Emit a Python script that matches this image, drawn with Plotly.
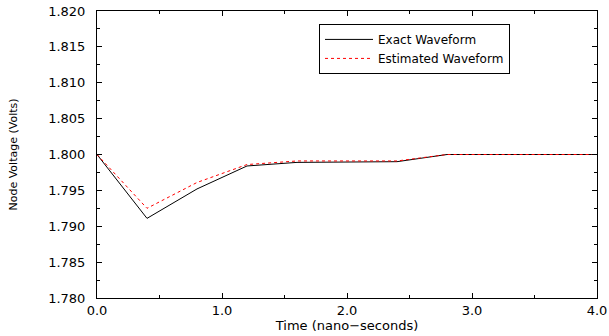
import plotly.graph_objects as go

time_ns = [0.0, 0.4, 0.8, 1.2, 1.6, 2.0, 2.4, 2.8, 3.2, 3.6, 4.0]
exact_v = [1.8000, 1.7911, 1.7952, 1.7984, 1.7989, 1.7989, 1.7990, 1.8000, 1.8000, 1.8000, 1.8000]
estimated_v = [1.8000, 1.7925, 1.7961, 1.7986, 1.7991, 1.7991, 1.7991, 1.8000, 1.8000, 1.8000, 1.8000]

x_ticks = [0.0, 1.0, 2.0, 3.0, 4.0]
x_labels = ["0.0", "1.0", "2.0", "3.0", "4.0"]
y_ticks = [1.780, 1.785, 1.790, 1.795, 1.800, 1.805, 1.810, 1.815, 1.820]
y_labels = ["%.3f" % v for v in y_ticks]

font_family = "DejaVu Sans, Verdana, sans-serif"

fig = go.Figure()
fig.add_trace(go.Scatter(x=time_ns, y=exact_v, mode="lines", name="Exact Waveform",
                         line=dict(color="black", width=1)))
fig.add_trace(go.Scatter(x=time_ns, y=estimated_v, mode="lines", name="Estimated Waveform",
                         line=dict(color="red", width=1, dash="dot")))

fig.update_layout(
    width=609, height=336,
    margin=dict(l=97, r=12, t=11, b=38, autoexpand=False),
    paper_bgcolor="white", plot_bgcolor="white",
    font=dict(family=font_family, color="black", size=13),
    showlegend=True,
    legend=dict(x=0.444, y=0.955, xanchor="left", yanchor="top",
                bordercolor="black", borderwidth=1, bgcolor="white",
                font=dict(size=12), tracegroupgap=0, itemwidth=48,
                entrywidth=215, valign="middle"),
    xaxis=dict(range=[0, 4], tickvals=x_ticks, ticktext=x_labels, automargin=False,
               showline=True, linecolor="black", linewidth=1, mirror="allticks",
               ticks="inside", ticklen=5, tickcolor="black", showgrid=False, zeroline=False,
               minor=dict(ticks="inside", dtick=0.5, ticklen=3, tickcolor="black", showgrid=False),
               title=dict(text="Time (nano\u2212seconds)", font=dict(size=13), standoff=0),
               tickfont=dict(size=13), ticklabelstandoff=0),
    yaxis=dict(range=[1.780, 1.820], tickvals=y_ticks, ticktext=y_labels, automargin=False,
               showline=True, linecolor="black", linewidth=1, mirror="allticks",
               ticks="inside", ticklen=5, tickcolor="black", showgrid=False, zeroline=False,
               minor=dict(ticks="inside", dtick=0.0025, ticklen=3, tickcolor="black", showgrid=False),
               title=dict(text="Node Voltage (Volts)", font=dict(size=11), standoff=28),
               tickfont=dict(size=13), ticklabelstandoff=8),
)

fig.write_html("out.html", config={"displayModeBar": False},
               post_script="document.body.style.margin='0';")
